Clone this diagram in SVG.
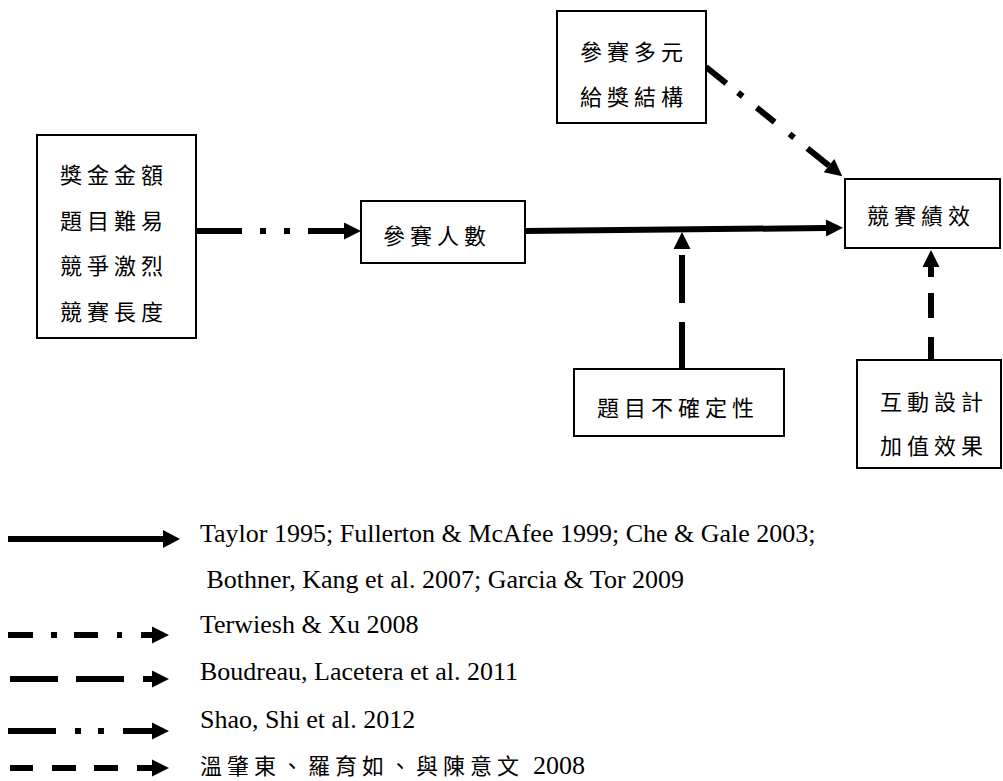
<svg xmlns="http://www.w3.org/2000/svg" xmlns:xlink="http://www.w3.org/1999/xlink" width="1003" height="781" viewBox="0 0 1003 781">
<style>
.box{fill:#fff;stroke:#000;stroke-width:2}
.cj{font-family:"Liberation Serif","Noto Sans CJK TC",serif;font-size:22px;letter-spacing:5px;fill:#000}
.en{font-family:"Liberation Serif","Times New Roman",serif;font-size:26px;fill:#000}
.ln{fill:none;stroke:#000;stroke-width:6}
.lg{fill:none;stroke:#000;stroke-width:6}
</style>
<defs>
<path id="hd" d="M0,-8.5 L17,0 L0,8.5 Z" fill="#000"/>
</defs>
<rect width="1003" height="781" fill="#fff"/>

<g id="connectors">
<path class="ln" d="M196,231 H242 M260,231 H266 M284,231 H290 M308,231 H344"/>
<use xlink:href="#hd" href="#hd" transform="translate(344,231)"/>
<path class="ln" d="M525,231 L826,228"/>
<use xlink:href="#hd" href="#hd" transform="translate(826,228) rotate(-0.57)"/>
<path class="ln" d="M706,67 L726.3,83.3 M738,92.7 L742.7,96.4 M756.7,107.7 L774.6,122.1 M789.5,134 L794.1,137.7 M807.4,148.4 L829,165.7"/>
<use xlink:href="#hd" href="#hd" transform="translate(829,165.7) rotate(38.8)"/>
<path class="ln" d="M682,369 V322 M682,303 V255"/>
<use xlink:href="#hd" href="#hd" transform="translate(682,249) rotate(-90)"/>
<path class="ln" d="M931,360 V337 M931,318 V293 M931,277 V266"/>
<use xlink:href="#hd" href="#hd" transform="translate(931,267) rotate(-90)"/>
</g>

<g id="node-factors">
<rect class="box" x="37" y="135" width="159" height="203"/>
<text class="cj" x="60" y="183">獎金金額</text>
<text class="cj" x="60" y="229">題目難易</text>
<text class="cj" x="60" y="274">競爭激烈</text>
<text class="cj" x="60" y="320">競賽長度</text>
</g>

<g id="node-participants">
<rect class="box" x="361" y="201" width="164" height="62"/>
<text class="cj" x="383" y="244">參賽人數</text>
</g>

<g id="node-reward">
<rect class="box" x="557" y="11" width="149" height="112"/>
<text class="cj" x="580" y="60">參賽多元</text>
<text class="cj" x="580" y="105">給獎結構</text>
</g>

<g id="node-performance">
<rect class="box" x="845" y="179" width="155" height="69"/>
<text class="cj" x="867" y="224">競賽績效</text>
</g>

<g id="node-uncertainty">
<rect class="box" x="574" y="369" width="210" height="67"/>
<text class="cj" x="597" y="416">題目不確定性</text>
</g>

<g id="node-interaction">
<rect class="box" x="857" y="360" width="144" height="108"/>
<text class="cj" x="880" y="410">互動設計</text>
<text class="cj" x="880" y="454">加值效果</text>
</g>

<g id="legend">
<path class="lg" d="M8,539 H163"/>
<use xlink:href="#hd" href="#hd" transform="translate(163,539) scale(1,1.06)"/>
<text class="en" x="200" y="542">Taylor 1995; Fullerton &amp; McAfee 1999; Che &amp; Gale 2003;</text>
<text class="en" x="200" y="588" xml:space="preserve"> Bothner, Kang et al. 2007; Garcia &amp; Tor 2009</text>

<path class="lg" d="M8,635 H33 M51,635 H57 M74,635 H98 M117,635 H122 M141,635 H152"/>
<use xlink:href="#hd" href="#hd" transform="translate(152,635)"/>
<text class="en" x="200" y="633">Terwiesh &amp; Xu 2008</text>

<path class="lg" d="M10,679 H58 M76,679 H124 M143,679 H152"/>
<use xlink:href="#hd" href="#hd" transform="translate(152,679)"/>
<text class="en" x="200" y="680">Boudreau, Lacetera et al. 2011</text>

<path class="lg" d="M8,731 H56 M75,731 H81 M98,731 H104 M123,731 H152"/>
<use xlink:href="#hd" href="#hd" transform="translate(152,731)"/>
<text class="en" x="200" y="728">Shao, Shi et al. 2012</text>

<path class="lg" d="M10,768 H33 M52,768 H76 M94,768 H118 M137,768 H152"/>
<use xlink:href="#hd" href="#hd" transform="translate(152,768)"/>
<text class="cj" x="200" y="774">溫肇東、羅育如、與陳意文</text>
<text class="en" x="533" y="774">2008</text>
</g>
</svg>
